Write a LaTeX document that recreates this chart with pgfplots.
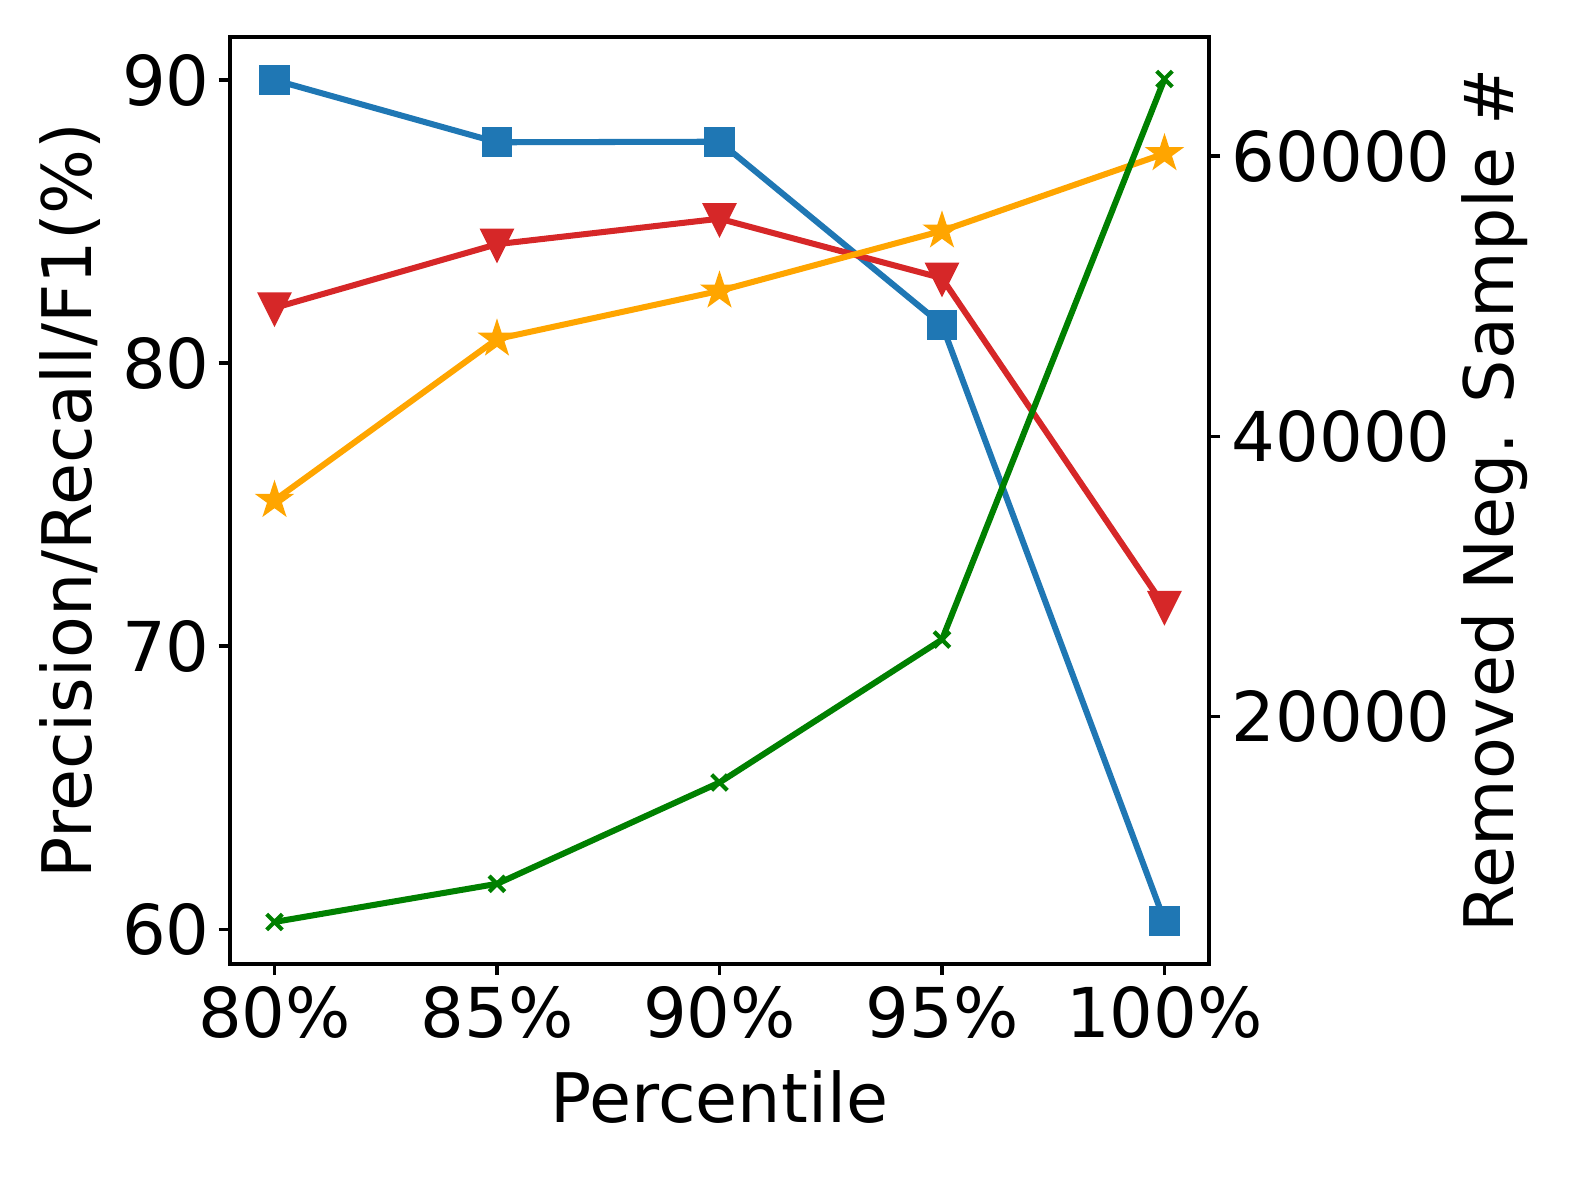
\documentclass[border=0pt]{standalone}
\usepackage{pgfplots}
\pgfplotsset{compat=1.18}
\usepackage{fontspec}
\setmainfont{DejaVu Sans}
\definecolor{mblue}{HTML}{1F77B4}
\definecolor{mred}{HTML}{D62728}
\definecolor{morange}{HTML}{FFA500}
\definecolor{mgreen}{HTML}{008000}
\pgfdeclareplotmark{fstar}{%
 \pgfpathmoveto{\pgfpointpolar{90}{\pgfplotmarksize}}%
 \pgfpathlineto{\pgfpointpolar{126}{0.382\pgfplotmarksize}}%
 \pgfpathlineto{\pgfpointpolar{162}{\pgfplotmarksize}}%
 \pgfpathlineto{\pgfpointpolar{198}{0.382\pgfplotmarksize}}%
 \pgfpathlineto{\pgfpointpolar{234}{\pgfplotmarksize}}%
 \pgfpathlineto{\pgfpointpolar{270}{0.382\pgfplotmarksize}}%
 \pgfpathlineto{\pgfpointpolar{306}{\pgfplotmarksize}}%
 \pgfpathlineto{\pgfpointpolar{342}{0.382\pgfplotmarksize}}%
 \pgfpathlineto{\pgfpointpolar{18}{\pgfplotmarksize}}%
 \pgfpathlineto{\pgfpointpolar{54}{0.382\pgfplotmarksize}}%
 \pgfpathclose\pgfusepathqfillstroke}
\pgfdeclareplotmark{tridown}{%
 \pgfpathmoveto{\pgfqpoint{0pt}{-\pgfplotmarksize}}%
 \pgfpathlineto{\pgfqpoint{-\pgfplotmarksize}{\pgfplotmarksize}}%
 \pgfpathlineto{\pgfqpoint{\pgfplotmarksize}{\pgfplotmarksize}}%
 \pgfpathclose\pgfusepathqfillstroke}
\pgfplotsset{
  every tick label/.append style={font=\fontsize{16.5}{20}\selectfont},
  label style={font=\fontsize{16.4}{20}\selectfont},
  /pgf/number format/assume math mode=true,
}
\begin{document}
\begin{tikzpicture}
\begin{axis}[
  at={(0,0)}, anchor=south west,
  scale only axis, width=234.96pt, height=222.48pt,
  xmin=-0.2, xmax=4.2, ymin=58.77, ymax=91.52,
  xtick={0,1,2,3,4},
  xticklabels={80\%,85\%,90\%,95\%,100\%},
  ytick={60,70,80,90},
  xtick pos=bottom, ytick pos=left,
  tick align=outside, major tick length=2.7pt,
  tick style={black, line width=0.8pt},
  axis line style={line width=0.8pt},
  yticklabel style={inner sep=2pt},
  xticklabel style={inner sep=2.5pt},
  xlabel={Percentile},
  ylabel={Precision/Recall/F1(\%)},
  xlabel style={at={(axis description cs:0.5,-0.1435)}, anchor=center},
  ylabel style={at={(axis description cs:-0.1634,0.5)}, anchor=center},
  clip=false,
]
\addplot[mblue, line width=1.45pt, mark=square*, mark size=2.9pt, mark options={solid}] coordinates {(0,90.0) (1,87.8) (2,87.82) (3,81.35) (4,60.3)};
\addplot[mred, line width=1.45pt, mark=tridown, mark size=3pt] coordinates {(0,81.95) (1,84.2) (2,85.1) (3,83.0) (4,71.4)};
\addplot[morange, line width=1.45pt, mark=fstar, mark size=2.6pt] coordinates {(0,75.15) (1,80.85) (2,82.55) (3,84.67) (4,87.4)};
\end{axis}
\begin{axis}[
  at={(0,0)}, anchor=south west,
  scale only axis, width=234.96pt, height=222.48pt,
  xmin=-0.2, xmax=4.2, ymin=2350, ymax=68500,
  axis x line=none, axis y line*=right,
  scaled y ticks=false,
  ytick={20000,40000,60000},
  yticklabels={20000,40000,60000},
  tick align=outside, major tick length=2.7pt,
  tick style={black, line width=0.8pt},
  axis line style={line width=0.8pt, -},
  yticklabel style={inner sep=2.6pt},
  ylabel={Removed Neg. Sample \#},
  ylabel style={at={(axis description cs:1.292,0.5)}, anchor=center},
  clip=false,
]
\addplot[mgreen, line width=1.45pt, mark=x, mark size=2.65pt, mark options={line width=1pt}] coordinates {(0,5350) (1,8070) (2,15300) (3,25500) (4,65500)};
\end{axis}
\pgfresetboundingbox
\useasboundingbox (-55.2pt,-52.56pt) rectangle (323.28pt,231.36pt);
\end{tikzpicture}
\end{document}
